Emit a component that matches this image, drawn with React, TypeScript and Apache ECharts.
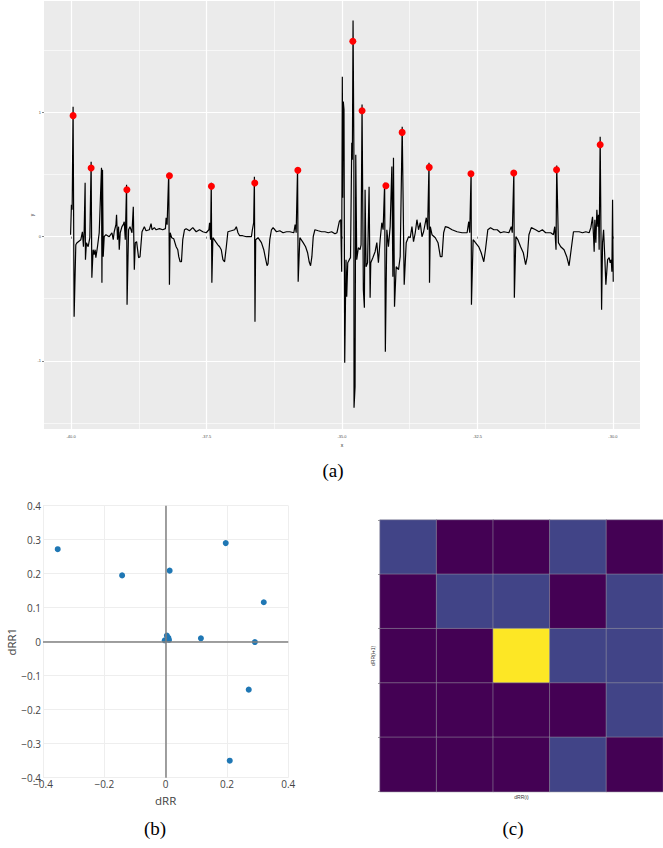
import React, { useEffect, useRef } from 'react';
import * as echarts from 'echarts';

// ---- (a) ECG trace ----
const ecgT = [
-40.009,-39.994,-39.981,-39.963,-39.944,-39.913,-39.889,-39.820,-39.791,-39.772,
-39.759,-39.741,-39.735,-39.717,-39.685,-39.654,-39.630,-39.617,-39.593,-39.574,
-39.556,-39.543,-39.513,-39.481,-39.439,-39.431,-39.420,-39.407,-39.389,-39.357,
-39.296,-39.246,-39.222,-39.204,-39.172,-39.161,-39.143,-39.124,-39.111,-39.093,
-39.061,-39.037,-39.019,-39.000,-38.976,-38.967,-38.939,-38.913,-38.876,-38.852,
-38.833,-38.815,-38.791,-38.754,-38.728,-38.691,-38.648,-38.617,-38.556,-38.524,
-38.506,-38.463,-38.431,-38.370,-38.309,-38.259,-38.246,-38.228,-38.198,-38.185,
-38.172,-38.143,-38.106,-38.061,-38.031,-38.013,-37.987,-37.963,-37.939,-37.907,
-37.876,-37.815,-37.754,-37.691,-37.630,-37.569,-37.506,-37.457,-37.444,-37.426,
-37.413,-37.402,-37.383,-37.333,-37.291,-37.259,-37.228,-37.198,-37.167,-37.135,
-37.106,-37.043,-36.981,-36.950,-36.920,-36.889,-36.833,-36.765,-36.672,-36.654,
-36.630,-36.617,-36.606,-36.593,-36.550,-36.487,-36.444,-36.407,-36.383,-36.365,
-36.333,-36.302,-36.272,-36.209,-36.148,-36.087,-36.024,-35.963,-35.889,-35.865,
-35.846,-35.820,-35.809,-35.778,-35.717,-35.672,-35.635,-35.606,-35.580,-35.556,
-35.531,-35.500,-35.439,-35.376,-35.315,-35.254,-35.191,-35.130,-35.093,-35.050,
-35.024,-35.006,-34.994,-34.987,-34.976,-34.963,-34.950,-34.926,-34.913,-34.894,
-34.865,-34.843,-34.820,-34.809,-34.796,-34.781,-34.778,-34.759,-34.746,-34.728,
-34.698,-34.667,-34.648,-34.630,-34.606,-34.587,-34.574,-34.556,-34.528,-34.500,
-34.481,-34.469,-34.431,-34.389,-34.357,-34.328,-34.296,-34.265,-34.241,-34.213,
-34.200,-34.172,-34.143,-34.111,-34.080,-34.061,-34.050,-34.031,-34.000,-33.957,
-33.926,-33.889,-33.852,-33.815,-33.772,-33.741,-33.709,-33.680,-33.648,-33.617,
-33.587,-33.556,-33.524,-33.494,-33.444,-33.420,-33.394,-33.385,-33.370,-33.339,
-33.278,-33.228,-33.185,-33.154,-33.124,-33.093,-33.031,-32.969,-32.876,-32.783,
-32.691,-32.661,-32.643,-32.617,-32.611,-32.580,-32.537,-32.476,-32.431,-32.383,
-32.352,-32.309,-32.259,-32.198,-32.135,-32.074,-32.013,-31.920,-31.876,-31.857,
-31.828,-31.819,-31.791,-31.754,-31.704,-31.654,-31.611,-31.580,-31.550,-31.506,
-31.426,-31.365,-31.302,-31.241,-31.148,-31.098,-31.074,-31.050,-31.037,-31.006,
-30.963,-30.902,-30.852,-30.809,-30.778,-30.728,-30.685,-30.624,-30.561,-30.500,
-30.439,-30.407,-30.376,-30.357,-30.346,-30.333,-30.315,-30.296,-30.278,-30.265,
-30.254,-30.235,-30.209,-30.191,-30.172,-30.148,-30.130,-30.098,-30.069,-30.050,
-30.031,-30.019,-30.006,-29.994,
];
const ecgV = [
0.016,0.258,0.218,1.048,-0.645,-0.065,-0.048,-0.024,0.040,-0.081,
0.040,0.435,-0.185,-0.048,-0.081,-0.008,0.605,-0.331,-0.105,-0.145,
-0.105,-0.169,-0.081,0.032,0.556,-0.371,0.540,-0.161,0,0.016,
0,0.032,-0.024,0.040,0.097,0.177,-0.024,0.081,-0.105,0.032,
0.081,0.097,0.121,-0.024,0.419,-0.548,0.056,0.081,0.032,0.242,
-0.266,-0.048,-0.040,-0.169,-0.161,0.040,0.081,0.048,0.056,0.105,
0.056,0.073,0.056,0.065,0.056,0.065,0.153,0.097,0.516,-0.387,
0.032,-0.008,-0.016,-0.081,-0.105,-0.161,-0.202,-0.202,-0.024,0.056,
0.065,0.048,0.073,0.040,0.056,0.040,0.032,0.056,0.113,-0.024,
0.435,-0.371,-0.008,-0.040,-0.065,-0.081,-0.105,-0.185,-0.202,-0.081,
0.040,0.048,0.056,0.081,0.032,0.008,0.008,0,0,0.056,
0.113,0.484,-0.685,-0.024,-0.008,-0.048,-0.105,-0.185,-0.234,-0.218,
-0.024,0.056,0.073,0.040,0.048,0.032,0.040,0.040,0.032,0.097,
0.032,0.556,-0.363,-0.008,-0.048,-0.081,-0.129,-0.202,-0.234,-0.161,
0,0.056,0.048,0.040,0.040,0.032,0.040,0.024,0.032,0.121,
0.137,-0.282,1.290,0.315,1.089,1.024,-1.016,-0.185,-0.484,-0.210,
-0.185,-0.169,0.758,0.621,1.742,0.702,-1.379,-1.210,0.661,-0.185,
-0.089,-0.105,-0.065,1.065,-0.427,-0.573,0.379,-0.242,-0.210,0.403,
-0.492,-0.210,-0.169,-0.121,-0.048,-0.210,-0.024,0.113,0.056,0.435,
-0.927,0.056,-0.081,0.081,0.565,-0.323,0.637,-0.565,-0.242,-0.266,
-0.161,0.887,-0.387,-0.048,0,-0.008,0.081,-0.040,0.032,0.137,
0.056,0.113,0,0.040,0.153,0.056,0.597,-0.371,0.081,0.016,
-0.008,-0.048,-0.161,-0.161,0.032,0.081,0.073,0.056,0.040,0.032,
0.032,0.121,0.032,0.524,-0.548,-0.024,-0.048,-0.081,-0.129,-0.202,
-0.105,0.056,0.073,0.056,0.056,0.032,0.040,0.032,0.081,0.032,
0.524,-0.492,0,-0.024,-0.081,-0.129,-0.226,-0.161,0.016,0.073,
0.056,0.040,0.056,0.032,0.032,0.016,0.081,-0.105,0.573,-0.048,
-0.081,-0.105,-0.161,-0.234,-0.129,0.040,0.040,0.040,0.032,0.040,
0.032,0.073,0.161,0,-0.121,0.137,-0.048,0.218,0.081,0.177,
-0.105,0.806,-0.589,-0.048,0.056,-0.185,-0.387,-0.185,-0.169,-0.210,
-0.185,-0.282,0.298,-0.363,
];
const peakT = [-39.963,-39.630,-38.970,-38.185,-37.410,-36.610,-35.815,-34.800,-34.630,-34.190,-33.890,-33.390,-32.620,-31.830,-31.040,-30.235];
const peakV = [0.976,0.554,0.379,0.492,0.406,0.433,0.535,1.575,1.016,0.411,0.841,0.559,0.508,0.514,0.540,0.742];
const xMajorTicks = [-40, -37.5, -35, -32.5, -30];
const xMinorTicks = [-38.75, -36.25, -33.75, -31.25];
const yMajorTicks = [-1, 0, 1];
const yMinorTicks = [-1.5, -0.5, 0.5, 1.5];

// ---- (b) Poincare-like scatter ----
const dRR = [-0.352,-0.142,0.013,0.196,0.320,0.115,0.291,0.271,0.209,-0.003,0.004,0.009,0.011];
const dRR1 = [0.272,0.195,0.209,0.290,0.116,0.010,-0.001,-0.141,-0.350,0.004,0.018,0.011,0.005];

// ---- (c) 2D histogram (rows top -> bottom) ----
const heatBins = ['0', '1', '2', '3', '4'];
const heatRow1 = [1, 0, 0, 1, 0];
const heatRow2 = [0, 1, 1, 0, 1];
const heatRow3 = [0, 0, 4, 1, 1];
const heatRow4 = [0, 0, 0, 0, 1];
const heatRow5 = [0, 0, 0, 1, 0];

const fmtPlotly = (v: number) => {
  if (Math.abs(v) < 1e-9) return '0';
  return (v < 0 ? '\u2212' : '') + Math.abs(v).toFixed(1);
};

export default function App() {
  const ref = useRef<HTMLDivElement>(null);
  useEffect(() => {
    const chart = echarts.init(ref.current!, null, { renderer: 'svg' });
    const heatRows = [heatRow1, heatRow2, heatRow3, heatRow4, heatRow5];
    const heatData: number[][] = [];
    heatRows.forEach((row, r) => row.forEach((v, c) => heatData.push([c, 4 - r, v])));

    const option: any = {
      animation: false,
      backgroundColor: '#ffffff',
      grid: [
        { left: 44, top: 1, width: 596, height: 428, show: true, backgroundColor: '#EBEBEB', borderWidth: 0 },
        { left: 43, top: 505.7, width: 245.3, height: 272, show: false },
        { left: 380, top: 520, width: 289, height: 271.7, show: false },
      ],
      xAxis: [
        {
          gridIndex: 0, type: 'value', min: -40.5, max: -29.5, position: 'bottom',
          axisLine: { show: false },
          axisTick: { show: true, customValues: xMajorTicks, length: 2, lineStyle: { color: '#333', width: 0.6 } },
          axisLabel: { customValues: xMajorTicks, formatter: (v: number) => v.toFixed(1), fontSize: 4, color: '#4d4d4d', margin: 5, fontFamily: 'Liberation Sans' },
          splitLine: { show: true, lineStyle: { color: '#ffffff', width: 1.2 } },
          name: 'x', nameLocation: 'middle', nameGap: 13, nameTextStyle: { fontSize: 5, color: '#222', fontFamily: 'Liberation Sans' },
        },
        {
          gridIndex: 0, type: 'value', min: -40.5, max: -29.5, position: 'bottom',
          axisLine: { show: false },
          axisTick: { show: false, customValues: xMinorTicks },
          axisLabel: { show: false, customValues: xMinorTicks },
          splitLine: { show: true, lineStyle: { color: '#ffffff', width: 0.6 } },
        },
        {
          gridIndex: 1, type: 'value', min: -0.4, max: 0.4, interval: 0.2,
          axisLine: { show: false }, axisTick: { show: false },
          axisLabel: { formatter: fmtPlotly, fontSize: 10, color: '#444', margin: 1, fontFamily: 'Open Sans' },
          splitLine: { show: true, lineStyle: { color: '#eeeeee', width: 1 } },
          name: 'dRR', nameLocation: 'middle', nameGap: 17, nameTextStyle: { fontSize: 11.5, color: '#444', fontFamily: 'Open Sans' },
        },
        {
          gridIndex: 2, type: 'category', data: heatBins,
          axisLine: { show: false }, axisTick: { show: false }, axisLabel: { show: false }, splitLine: { show: false },
          name: 'dRR(i)', nameLocation: 'middle', nameGap: 3, nameTextStyle: { fontSize: 5, color: '#333', fontFamily: 'Liberation Sans' },
        },
      ],
      yAxis: [
        {
          gridIndex: 0, type: 'value', min: -1.55, max: 1.9,
          axisLine: { show: false },
          axisTick: { show: true, customValues: yMajorTicks, length: 2, lineStyle: { color: '#333', width: 0.6 } },
          axisLabel: { customValues: yMajorTicks, formatter: (v: number) => String(v), fontSize: 4, color: '#4d4d4d', margin: 3, fontFamily: 'Liberation Sans' },
          splitLine: { show: true, lineStyle: { color: '#ffffff', width: 1.2 } },
          name: 'y', nameLocation: 'middle', nameGap: 9.5, nameMoveOverlap: false, nameRotate: 90, nameTextStyle: { fontSize: 5, color: '#222', fontFamily: 'Liberation Sans' },
        },
        {
          gridIndex: 0, type: 'value', min: -1.55, max: 1.9,
          axisLine: { show: false },
          axisTick: { show: false, customValues: yMinorTicks },
          axisLabel: { show: false, customValues: yMinorTicks },
          splitLine: { show: true, lineStyle: { color: '#ffffff', width: 0.6 } },
        },
        {
          gridIndex: 1, type: 'value', min: -0.4, max: 0.4, interval: 0.1,
          axisLine: { show: false }, axisTick: { show: false },
          axisLabel: { formatter: fmtPlotly, fontSize: 10, color: '#444', margin: 2, fontFamily: 'Open Sans' },
          splitLine: { show: true, lineStyle: { color: '#eeeeee', width: 1 } },
          name: 'dRR1', nameLocation: 'middle', nameGap: 24, nameRotate: 90, nameTextStyle: { fontSize: 11.5, color: '#444', fontFamily: 'Open Sans' },
        },
        {
          gridIndex: 2, type: 'category', data: heatBins,
          axisLine: { show: false }, axisTick: { show: true, length: 2, lineStyle: { color: '#555', width: 0.6 } },
          axisLabel: { show: false }, splitLine: { show: false },
          name: 'dRR(i+1)', nameLocation: 'middle', nameGap: 5, nameRotate: 90, nameTextStyle: { fontSize: 5, color: '#333', fontFamily: 'Liberation Sans' },
        },
      ],
      visualMap: {
        show: false, type: 'continuous', min: 0, max: 4, seriesIndex: 3,
        inRange: { color: ['#440154', '#414487', '#2a788e', '#7ad151', '#fde725'] },
      },
      series: [
        {
          type: 'line', xAxisIndex: 0, yAxisIndex: 0, symbol: 'none', z: 2,
          data: ecgT.map((t, i) => [t, ecgV[i]]),
          lineStyle: { color: '#000000', width: 1.2 },
        },
        {
          type: 'scatter', xAxisIndex: 0, yAxisIndex: 0, z: 3, symbolSize: 7,
          data: peakT.map((t, i) => [t, peakV[i]]),
          itemStyle: { color: '#ff0000', opacity: 1 },
        },
        {
          type: 'scatter', xAxisIndex: 2, yAxisIndex: 2, symbolSize: 6, z: 3,
          data: dRR.map((v, i) => [v, dRR1[i]]),
          itemStyle: { color: '#1f77b4', opacity: 1 },
          markLine: {
            silent: true, symbol: 'none', label: { show: false },
            lineStyle: { color: '#808080', width: 1.5, type: 'solid' },
            data: [{ xAxis: 0 }, { yAxis: 0 }],
          },
        },
        {
          type: 'heatmap', xAxisIndex: 3, yAxisIndex: 3,
          data: heatData,
          itemStyle: { borderColor: 'rgba(150,150,160,0.55)', borderWidth: 1 },
        },
      ],
      graphic: [
        { type: 'text', x: 333, y: 470, style: { text: '(a)', fontSize: 19, fontFamily: 'Liberation Serif', fill: '#000', align: 'center', verticalAlign: 'middle' } },
        { type: 'text', x: 155, y: 828, style: { text: '(b)', fontSize: 19, fontFamily: 'Liberation Serif', fill: '#000', align: 'center', verticalAlign: 'middle' } },
        { type: 'text', x: 513, y: 828, style: { text: '(c)', fontSize: 19, fontFamily: 'Liberation Serif', fill: '#000', align: 'center', verticalAlign: 'middle' } },
      ],
    };
    chart.setOption(option);
    return () => chart.dispose();
  }, []);
  return <div ref={ref} style={{ position: 'absolute', left: 0, top: 0, width: 663, height: 848, background: '#fff' }} />;
}
